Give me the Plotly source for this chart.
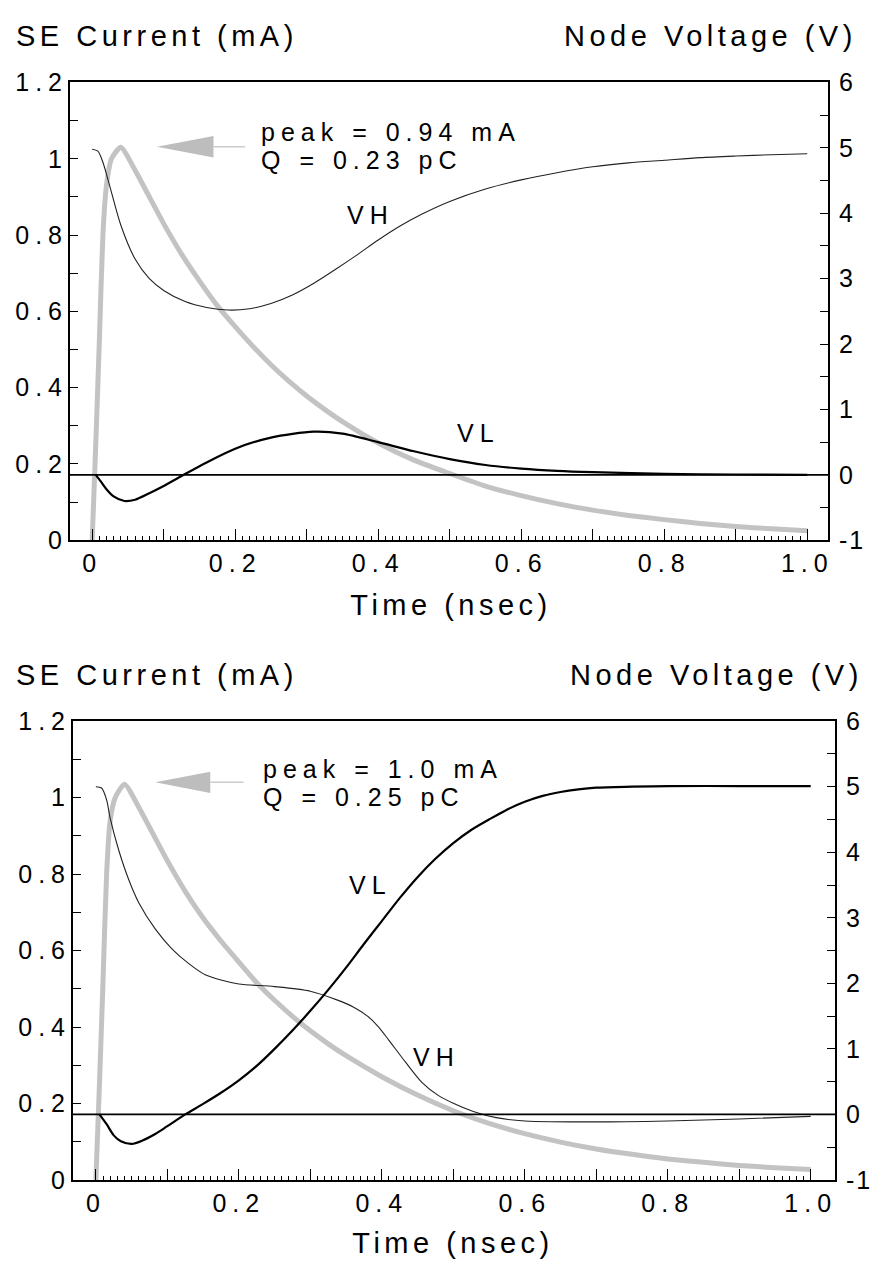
import plotly.graph_objects as go

W, H = 872, 1280

# ---------------- data ----------------
# SE current (mA, left axis), shared time grid
t_cur = [0, 0.005, 0.01, 0.015, 0.02, 0.027, 0.04, 0.06, 0.08, 0.1, 0.125, 0.15, 0.175, 0.2,
         0.225, 0.25, 0.275, 0.3, 0.325, 0.35, 0.4, 0.45, 0.5, 0.55, 0.6, 0.65, 0.7, 0.75, 0.8,
         0.85, 0.9, 0.95, 1.0]
cur_top = [0, 0.25, 0.52, 0.80, 0.93, 1.00, 1.03, 0.97, 0.90, 0.83, 0.75, 0.68, 0.615, 0.56,
           0.508, 0.46, 0.417, 0.378, 0.343, 0.311, 0.255, 0.21, 0.175, 0.142, 0.117, 0.096,
           0.079, 0.065, 0.054, 0.044, 0.036, 0.03, 0.025]
cur_bot = [0, 0.25, 0.52, 0.80, 0.94, 1.00, 1.035, 0.975, 0.905, 0.835, 0.755, 0.685, 0.625,
           0.57, 0.516, 0.47, 0.428, 0.39, 0.356, 0.325, 0.27, 0.222, 0.181, 0.148, 0.121,
           0.099, 0.081, 0.067, 0.055, 0.046, 0.038, 0.032, 0.027]

# Top panel node voltages (V, right axis)
t_vh_top = [0, 0.008, 0.015, 0.025, 0.04, 0.06, 0.08, 0.1, 0.13, 0.16, 0.19, 0.22, 0.25, 0.28,
            0.31, 0.34, 0.37, 0.4, 0.43, 0.46, 0.5, 0.55, 0.6, 0.65, 0.7, 0.75, 0.8, 0.85, 0.9,
            0.95, 1.0]
vh_top = [4.98, 4.95, 4.78, 4.40, 3.82, 3.30, 3.00, 2.82, 2.65, 2.56, 2.52, 2.54, 2.62, 2.75,
          2.93, 3.14, 3.36, 3.59, 3.80, 3.98, 4.18, 4.37, 4.51, 4.62, 4.71, 4.77, 4.81, 4.85,
          4.875, 4.895, 4.91]

t_vl_top = [0.005, 0.012, 0.02, 0.03, 0.045, 0.06, 0.08, 0.1, 0.128, 0.16, 0.2, 0.25, 0.31, 0.35,
            0.4, 0.45, 0.5, 0.55, 0.6, 0.65, 0.7, 0.8, 0.9, 1.0]
vl_top = [0, -0.1, -0.22, -0.33, -0.40, -0.38, -0.28, -0.17, 0, 0.19, 0.40, 0.57, 0.66, 0.63,
          0.50, 0.36, 0.24, 0.15, 0.095, 0.06, 0.04, 0.015, 0.005, 0.0]

# Bottom panel node voltages (V, right axis)
t_vh_bot = [0, 0.008, 0.015, 0.02, 0.032, 0.046, 0.06, 0.083, 0.106, 0.13, 0.153, 0.175, 0.2,
            0.25, 0.3, 0.339, 0.36, 0.38, 0.395, 0.41, 0.433, 0.456, 0.479, 0.5, 0.528, 0.56,
            0.6, 0.7, 0.8, 0.9, 1.0]
vh_bot = [5.0, 4.98, 4.8, 4.52, 4.03, 3.58, 3.23, 2.83, 2.53, 2.3, 2.13, 2.05, 1.99, 1.95,
          1.88, 1.74, 1.64, 1.50, 1.34, 1.13, 0.80, 0.49, 0.29, 0.17, 0.045, -0.05, -0.1,
          -0.115, -0.1, -0.07, -0.03]

t_vl_bot = [0.005, 0.015, 0.025, 0.035, 0.05, 0.065, 0.083, 0.1, 0.125, 0.15, 0.175, 0.2, 0.225,
            0.25, 0.275, 0.3, 0.325, 0.35, 0.375, 0.4, 0.425, 0.45, 0.475, 0.5, 0.525, 0.55,
            0.575, 0.6, 0.625, 0.65, 0.675, 0.7, 0.75, 0.8, 0.9, 1.0]
vl_bot = [0, -0.15, -0.32, -0.41, -0.45, -0.40, -0.30, -0.18, 0, 0.16, 0.33, 0.52, 0.74,
          1.0, 1.28, 1.58, 1.9, 2.24, 2.6, 2.95, 3.3, 3.62, 3.9, 4.14, 4.34, 4.5,
          4.65, 4.77, 4.86, 4.92, 4.96, 4.985, 5.0, 5.01, 5.01, 5.01]

# tick labels
x_tickvals = [0, 0.1, 0.2, 0.3, 0.4, 0.5, 0.6, 0.7, 0.8, 0.9, 1.0]
x_ticktext = ["0", "", "0.2", "", "0.4", "", "0.6", "", "0.8", "", "1.0"]
yl_tickvals = [0, 0.2, 0.4, 0.6, 0.8, 1.0, 1.2]
yl_ticktext = ["0", "0.2", "0.4", "0.6", "0.8", "1", "1.2"]
yr_tickvals = [-1, 0, 1, 2, 3, 4, 5, 6]
yr_ticktext = ["-1", "0", "1", "2", "3", "4", "5", "6"]

annot_top = ["peak = 0.94 mA", "Q = 0.23 pC"]
annot_bot = ["peak = 1.0 mA", "Q = 0.25 pC"]

# ---------------- styling ----------------
FONT = "Liberation Sans, Arial, sans-serif"
TICKFONT = dict(family=FONT, size=25, color="black")
GRAY = "#c3c3c3"

fig = go.Figure()

panels = [
    dict(xa="x", ya="y", yb="y2", cur=cur_top, tvh=t_vh_top, vh=vh_top, tvl=t_vl_top, vl=vl_top),
    dict(xa="x2", ya="y3", yb="y4", cur=cur_bot, tvh=t_vh_bot, vh=vh_bot, tvl=t_vl_bot, vl=vl_bot),
]

for p in panels:
    fig.add_trace(go.Scatter(x=p["tvh"], y=p["vh"], xaxis=p["xa"], yaxis=p["yb"], mode="lines",
                             line=dict(color="#222222", width=1.1, shape="spline", smoothing=0.8),
                             hoverinfo="skip"))
    fig.add_trace(go.Scatter(x=p["tvl"], y=p["vl"], xaxis=p["xa"], yaxis=p["yb"], mode="lines",
                             line=dict(color="black", width=2.2, shape="spline", smoothing=0.8),
                             hoverinfo="skip"))
    fig.add_trace(go.Scatter(x=t_cur, y=p["cur"], xaxis=p["xa"], yaxis=p["ya"], mode="lines",
                             line=dict(color=GRAY, width=5, shape="spline", smoothing=0.6),
                             hoverinfo="skip"))

minor_x = [round(i * 0.01, 2) for i in range(1, 100) if i % 10]


def xaxis(domain, rng, anchor):
    return dict(domain=domain, range=rng, anchor=anchor, showgrid=False, zeroline=False,
                showline=True, linecolor="black", linewidth=2, mirror=True,
                ticks="inside", ticklen=11, tickwidth=1.3, tickcolor="black",
                tickmode="array", tickvals=x_tickvals, ticktext=x_ticktext,
                tickfont=TICKFONT,
                minor=dict(tickmode="array", tickvals=minor_x, ticks="inside", ticklen=4,
                           tickwidth=1, tickcolor="black", showgrid=False))


def yleft(domain, anchor):
    return dict(domain=domain, range=[0, 1.2], anchor=anchor, showgrid=False, zeroline=False,
                showline=True, linecolor="black", linewidth=2,
                ticks="inside", ticklen=8, tickwidth=1.3, tickcolor="black",
                tickmode="array", tickvals=yl_tickvals, ticktext=yl_ticktext, tickfont=TICKFONT,
                ticklabelstandoff=-5,
                minor=dict(tickmode="array", tickvals=[0.1, 0.3, 0.5, 0.7, 0.9, 1.1],
                           ticks="inside", ticklen=8, tickwidth=1.3, tickcolor="black",
                           showgrid=False))


def yright(overlay, anchor):
    return dict(overlaying=overlay, side="right", range=[-1, 6], anchor=anchor, showgrid=False,
                zeroline=False, showline=True, linecolor="black", linewidth=2,
                ticks="inside", ticklen=8, tickwidth=1.3, tickcolor="black",
                tickmode="array", tickvals=yr_tickvals, ticktext=yr_ticktext, tickfont=TICKFONT,
                ticklabelstandoff=4,
                minor=dict(tickmode="array", tickvals=[-0.5, 0.5, 1.5, 2.5, 3.5, 4.5, 5.5],
                           ticks="inside", ticklen=8, tickwidth=1.3, tickcolor="black",
                           showgrid=False))


top_y = [1 - 538 / H, 1 - 70 / H]
bot_y = [1 - 1192 / H, 1 - 723 / H]

fig.update_layout(
    width=W, height=H, margin=dict(l=0, r=0, t=0, b=0),
    paper_bgcolor="white", plot_bgcolor="white", showlegend=False,
    xaxis=xaxis([70 / W, 828 / W], [-0.031, 1.029], "y"),
    yaxis=yleft(top_y, "x"),
    yaxis2=yright("y", "x"),
    xaxis2=xaxis([73 / W, 835 / W], [-0.032, 1.034], "y3"),
    yaxis3=yleft(bot_y, "x2"),
    yaxis4=yright("y3", "x2"),
)

shapes = []
# zero-volt reference lines
for xa, yb in (("x", "y2"), ("x2", "y4")):
    shapes.append(dict(type="line", xref=xa + " domain", x0=0, x1=1, yref=yb, y0=0, y1=0,
                       line=dict(color="black", width=1.6), layer="above"))

# arrows pointing to the current peak (tip, base, tail positions)
arrows = [
    dict(xa="x", ya="y", tip=(0.0905, 1.0315), base=0.1697, half=0.028, tail=0.214),
    dict(xa="x2", ya="y3", tip=(0.083, 1.040), base=0.160, half=0.028, tail=0.2066),
]
for a in arrows:
    tx, ty = a["tip"]
    shapes.append(dict(type="path", xref=a["xa"], yref=a["ya"],
                       path=f"M {tx},{ty} L {a['base']},{ty + a['half']} L {a['base']},{ty - a['half']} Z",
                       fillcolor="#bdbdbd", line=dict(width=0)))
    shapes.append(dict(type="line", xref=a["xa"], yref=a["ya"], x0=a["base"], x1=a["tail"],
                       y0=ty, y1=ty, line=dict(color="#cccccc", width=1.5)))
fig.update_layout(shapes=shapes)

TXT = dict(family=FONT, size=25, color="black")
TITLE = dict(family=FONT, size=29, color="black")


def pa(text, px, py, xanchor="left", font=TXT):
    align = {"left": "left", "right": "right"}.get(xanchor, "center")
    return dict(text=text, xref="paper", yref="paper", x=px / W, y=1 - py / H,
                xanchor=xanchor, yanchor="middle", align=align, showarrow=False, font=font)


annotations = [
    pa("SE Current (mA)", 14, 23, font=TITLE),
    pa("Node Voltage (V)", 859, 23, "right", TITLE),
    pa("Time (nsec)", 451, 604, "center", TITLE),
    pa(annot_top[0], 259, 121),
    pa(annot_top[1], 259, 149),
    pa("VH", 370, 205, "center"),
    pa("VL", 478, 428, "center"),
    pa("SE Current (mA)", 14, 676, font=TITLE),
    pa("Node Voltage (V)", 865, 676, "right", TITLE),
    pa("Time (nsec)", 453, 1256, "center", TITLE),
    pa(annot_bot[0], 261, 772),
    pa(annot_bot[1], 261, 800),
    pa("VL", 370, 890, "center"),
    pa("VH", 436, 1066, "center"),
]
fig.update_layout(annotations=annotations)

# The reference typography is noticeably wide-set; widen the letter spacing of all texts.
spacing_js = """
var gd = document.getElementById('{plot_id}');
function widen() {
  gd.querySelectorAll('text').forEach(function (t) {
    var fs = parseFloat(t.style.fontSize || window.getComputedStyle(t).fontSize);
    var sp = fs > 27 ? '4.5px' : '6px';
    if (t.closest('.y2tick, .y4tick')) { sp = '2px'; }
    t.style.letterSpacing = sp;
  });
}
widen();
if (gd.on) { gd.on('plotly_afterplot', widen); }
"""

fig.write_html("out.html", post_script=spacing_js)
